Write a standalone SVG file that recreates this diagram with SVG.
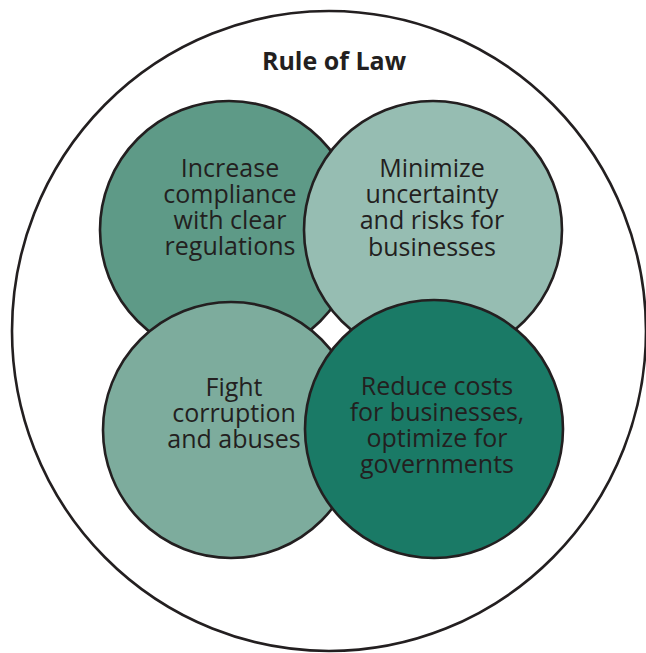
<svg xmlns="http://www.w3.org/2000/svg" width="646" height="653" viewBox="0 0 646 653">
<style>
.c{stroke:#231f20;stroke-width:2.6}
.t{font-family:"Open Sans","Liberation Sans",sans-serif;font-size:25px;fill:#231f20;text-anchor:middle}
.h{font-family:"Open Sans","Liberation Sans",sans-serif;font-size:25px;font-weight:bold;fill:#231f20;text-anchor:middle}
</style>
<rect width="646" height="653" fill="#ffffff"/>
<g id="rule-of-law">
<ellipse cx="329" cy="331" rx="317" ry="320" fill="#ffffff" class="c"/>
<text class="h" x="334" y="70">Rule of Law</text>
</g>
<g id="compliance">
<circle cx="229" cy="230" r="129" fill="#5e9a87" class="c"/>
<text class="t" x="230"><tspan x="230" y="177">Increase</tspan><tspan x="230" y="203">compliance</tspan><tspan x="230" y="229">with clear</tspan><tspan x="230" y="255">regulations</tspan></text>
</g>
<g id="uncertainty">
<circle cx="433" cy="230" r="129" fill="#96bdb2" class="c"/>
<text class="t" x="432"><tspan x="432" y="177">Minimize</tspan><tspan x="432" y="203">uncertainty</tspan><tspan x="432" y="229">and risks for</tspan><tspan x="432" y="256">businesses</tspan></text>
</g>
<g id="corruption">
<circle cx="231" cy="430" r="128" fill="#7dac9d" class="c"/>
<text class="t" x="234"><tspan x="234" y="396">Fight</tspan><tspan x="234" y="422">corruption</tspan><tspan x="234" y="448">and abuses</tspan></text>
</g>
<g id="costs">
<circle cx="434" cy="429" r="129" fill="#1a7a66" class="c"/>
<text class="t" x="437"><tspan x="437" y="395">Reduce costs</tspan><tspan x="437" y="421">for businesses,</tspan><tspan x="437" y="447">optimize for</tspan><tspan x="437" y="473">governments</tspan></text>
</g>
<g id="connectors"/>
</svg>
